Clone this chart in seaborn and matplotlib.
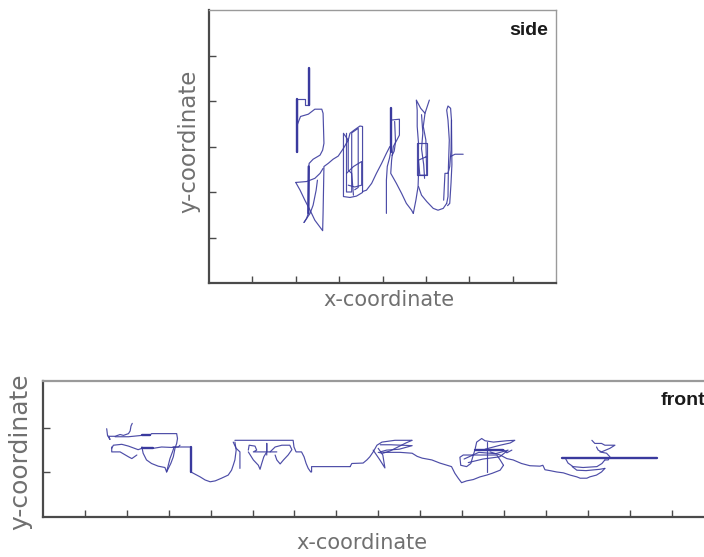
import matplotlib
matplotlib.use("Agg")
import matplotlib.pyplot as plt
import pandas as pd
import seaborn as sns

sns.set_theme(style="white")
plt.rcParams["font.family"] = ["DejaVu Sans"]

# ---------------- "side" view: pen trajectory (x 0..8, y 0..6) ----------------
side_1_x = [2.31, 2.31, 2.22, 2.22, 2.02, 2.02]
side_1_y = [4.72, 3.91, 3.91, 4.04, 4.04, 2.89]
side_2_x = [2.04, 2.11, 2.29, 2.44, 2.60, 2.63, 2.65, 2.62, 2.56, 2.40, 2.31, 2.30, 2.29, 2.25, 2.19]
side_2_y = [3.49, 3.66, 3.71, 3.82, 3.82, 3.73, 3.07, 2.92, 2.81, 2.72, 2.63, 2.56, 1.53, 1.42, 1.33]
side_3_x = [2.00, 2.10, 2.21, 2.33, 2.44, 2.62, 2.63, 2.65, 2.75, 2.86, 2.98, 3.10, 3.21]
side_3_y = [2.21, 2.04, 1.82, 1.60, 1.38, 1.15, 1.53, 2.56, 2.63, 2.72, 2.79, 2.96, 3.14]
side_4_x = [2.00, 2.25, 2.44, 2.56, 2.63]
side_4_y = [2.21, 2.23, 2.30, 2.41, 2.52]
side_5_x = [2.19, 2.33, 2.40, 2.47, 2.50]
side_5_y = [1.33, 1.53, 1.71, 2.04, 2.26]
side_6_x = [3.21, 3.10, 3.10, 3.25, 3.40, 3.54, 3.54, 3.48, 3.36, 3.25, 3.21, 3.21, 3.29, 3.33]
side_6_y = [3.14, 3.29, 1.90, 1.88, 1.91, 1.99, 3.44, 3.45, 3.37, 3.29, 3.14, 2.48, 2.41, 1.93]
side_7_x = [3.17, 3.33, 3.52, 3.52, 3.36, 3.21]
side_7_y = [2.41, 2.56, 2.67, 2.15, 2.11, 2.15]
side_8_x = [3.54, 3.63, 3.75, 3.86, 3.98, 4.09, 4.17]
side_8_y = [2.01, 2.04, 2.19, 2.41, 2.63, 2.85, 3.00]
side_9_x = [4.19, 4.19, 4.16, 4.11, 4.09, 4.09]
side_9_y = [3.84, 2.89, 2.74, 2.56, 2.26, 1.53]
side_10_x = [4.19, 4.39, 4.39, 4.33, 4.25, 4.21, 4.19, 4.32, 4.44, 4.55, 4.67, 4.71]
side_10_y = [3.58, 3.60, 3.25, 3.14, 3.00, 2.70, 2.41, 2.19, 1.97, 1.75, 1.60, 1.53]
side_11_x = [4.71, 4.77, 4.82, 4.83, 4.83, 4.80, 4.80, 4.78, 4.88, 4.98, 5.08]
side_11_y = [1.53, 1.82, 2.12, 2.41, 3.07, 3.44, 3.80, 4.02, 3.84, 3.73, 4.02]
side_12_x = [4.98, 4.94, 5.00, 5.02, 4.86, 4.83, 5.02]
side_12_y = [3.73, 3.44, 3.14, 2.37, 2.37, 2.70, 2.78]
side_13_x = [4.83, 4.90, 5.02, 5.17, 5.28, 5.40, 5.48]
side_13_y = [2.12, 1.93, 1.79, 1.64, 1.60, 1.64, 1.75]
side_14_x = [5.48, 5.51, 5.52, 5.54, 5.51, 5.48, 5.51, 5.57, 5.59, 5.58, 5.55, 5.51, 5.44, 5.41]
side_14_y = [1.75, 1.90, 2.56, 3.14, 3.58, 3.80, 3.89, 3.84, 3.58, 2.92, 2.56, 2.41, 2.41, 1.82]
side_15_x = [5.57, 5.67, 5.86]
side_15_y = [2.78, 2.83, 2.83]
side_16_x = [3.17, 3.17, 3.29, 3.29, 3.44, 3.44, 3.36]
side_16_y = [3.29, 2.00, 2.00, 3.30, 3.40, 2.10, 2.05]
side_17_x = [4.80, 5.02, 5.02, 4.80, 4.80]
side_17_y = [3.07, 3.07, 2.37, 2.37, 3.07]
side_18_x = [5.59, 5.60, 5.58, 5.55, 5.50]
side_18_y = [3.58, 2.60, 2.20, 1.75, 1.70]
side_19_x = [4.28, 4.30, 4.27, 4.22]
side_19_y = [3.55, 3.10, 2.90, 2.80]
side_20_x = [4.90, 4.93, 4.90, 4.95, 4.97]
side_20_y = [3.70, 3.30, 2.95, 2.60, 2.30]
# heavier (slow, repeated) pen strokes
side_bold_1_x = [2.31, 2.31]
side_bold_1_y = [4.72, 3.91]
side_bold_2_x = [2.02, 2.02]
side_bold_2_y = [4.04, 2.89]
side_bold_3_x = [2.30, 2.29]
side_bold_3_y = [2.56, 1.53]
side_bold_4_x = [4.19, 4.19]
side_bold_4_y = [3.84, 2.89]

# ---------------- "front" view: pen trajectory (x 0..16, y 0..3) ----------------
front_1_x = [1.52, 1.54, 1.60, 1.56, 1.72, 1.84, 1.92, 2.04, 2.08, 2.10, 2.13]
front_1_y = [1.98, 1.83, 1.74, 1.81, 1.81, 1.85, 1.83, 1.87, 1.93, 2.04, 2.10]
front_2_x = [1.72, 2.04, 2.36, 2.55, 2.59, 3.19, 3.21, 3.19, 3.15, 3.11, 3.05, 2.95]
front_2_y = [1.80, 1.80, 1.83, 1.83, 1.87, 1.87, 1.76, 1.65, 1.54, 1.35, 1.20, 1.01]
front_3_x = [1.64, 1.68, 1.88, 2.04, 2.27, 2.36, 2.63, 2.83, 3.07, 3.23, 3.27]
front_3_y = [1.54, 1.61, 1.63, 1.59, 1.51, 1.54, 1.54, 1.57, 1.56, 1.57, 1.61]
front_4_x = [1.64, 1.64, 1.84, 2.04, 2.12, 2.24]
front_4_y = [1.57, 1.46, 1.46, 1.35, 1.31, 1.39]
front_5_x = [2.36, 2.39, 2.47, 2.59, 2.75, 2.91, 2.95, 2.99, 3.03, 3.09, 3.13]
front_5_y = [1.57, 1.43, 1.28, 1.20, 1.14, 1.11, 1.01, 1.16, 1.31, 1.46, 1.57]
front_6_x = [3.10, 3.53, 3.53, 3.59, 3.75, 3.87, 3.99, 4.11, 4.26, 4.42, 4.50, 4.54, 4.58, 4.61, 4.58]
front_6_y = [1.57, 1.57, 1.01, 0.98, 0.90, 0.83, 0.79, 0.81, 0.87, 0.94, 1.05, 1.16, 1.28, 1.50, 1.68]
front_7_x = [4.58, 5.97, 5.99, 6.04, 6.17, 6.23, 6.28, 6.33, 6.39, 6.41, 6.41, 7.33]
front_7_y = [1.72, 1.72, 1.57, 1.46, 1.46, 1.35, 1.20, 1.09, 1.01, 1.01, 1.13, 1.13]
front_8_x = [4.54, 4.61, 4.70, 4.70]
front_8_y = [1.68, 1.54, 1.46, 1.09]
front_9_x = [4.90, 4.92, 5.06, 5.10, 5.02, 5.58]
front_9_y = [1.50, 1.61, 1.59, 1.50, 1.46, 1.46]
front_10_x = [4.90, 5.02, 5.14, 5.18, 5.22, 5.27, 5.34, 5.34, 5.34]
front_10_y = [1.46, 1.28, 1.16, 1.07, 1.20, 1.35, 1.46, 1.65, 1.39]
front_11_x = [5.42, 5.54, 5.70, 5.89, 5.94, 5.85, 5.74, 5.66, 5.58, 5.54]
front_11_y = [1.46, 1.57, 1.61, 1.61, 1.51, 1.39, 1.28, 1.19, 1.28, 1.39]
front_12_x = [7.33, 7.37, 7.64, 7.73, 7.80, 7.88, 7.97, 8.09, 8.40, 8.76, 8.81, 8.66, 8.47, 8.28, 8.11, 8.00]
front_12_y = [1.13, 1.20, 1.21, 1.28, 1.35, 1.46, 1.61, 1.68, 1.72, 1.72, 1.72, 1.66, 1.57, 1.48, 1.43, 1.45]
front_13_x = [7.88, 8.04, 8.16, 8.11, 8.00]
front_13_y = [1.50, 1.28, 1.10, 1.39, 1.54]
front_14_x = [8.11, 8.52, 8.81, 8.93, 9.05, 9.28, 9.47, 9.75, 9.83, 9.91, 9.99, 10.11, 10.27, 10.43,
              10.59, 10.72, 10.91, 10.99]
front_14_y = [1.45, 1.45, 1.43, 1.36, 1.32, 1.28, 1.21, 1.13, 0.98, 0.87, 0.77, 0.81, 0.84, 0.90,
              0.94, 0.98, 1.05, 1.16]
front_15_x = [10.99, 10.91, 10.83, 10.03, 9.95, 9.97, 10.11, 10.21, 10.27, 10.31, 10.99, 11.07, 11.19]
front_15_y = [1.16, 1.28, 1.39, 1.39, 1.34, 1.16, 1.13, 1.20, 1.39, 1.51, 1.51, 1.44, 1.50]
front_16_x = [10.31, 10.35, 10.47, 10.55, 10.75, 11.07, 11.26, 11.15, 10.91, 10.71, 10.55]
front_16_y = [1.51, 1.68, 1.76, 1.71, 1.68, 1.71, 1.72, 1.66, 1.61, 1.56, 1.52]
front_17_x = [10.59, 10.59]
front_17_y = [1.68, 1.01]
front_18_x = [10.67, 10.91, 11.07, 11.22, 11.42, 11.62, 11.86, 11.93, 11.98, 12.10, 12.26, 12.42,
              12.58, 12.74, 12.82, 12.98, 13.05, 13.21, 13.33, 13.41]
front_18_y = [1.46, 1.39, 1.31, 1.28, 1.20, 1.15, 1.14, 1.16, 1.06, 1.04, 1.01, 0.99,
              0.94, 0.90, 0.87, 0.87, 0.90, 0.94, 1.01, 1.09]
front_19_x = [12.46, 12.53, 12.65, 12.89, 13.22, 13.34, 13.41]
front_19_y = [1.33, 1.21, 1.13, 1.11, 1.13, 1.20, 1.28]
front_20_x = [12.63, 12.74, 12.96, 13.29, 13.41]
front_20_y = [1.13, 1.05, 1.04, 1.07, 1.09]
front_21_x = [13.10, 13.17, 13.33, 13.41, 13.65, 13.53, 13.33, 13.25, 13.21]
front_21_y = [1.72, 1.65, 1.65, 1.61, 1.61, 1.54, 1.46, 1.50, 1.57]
front_22_x = [13.29, 13.45, 13.53, 13.49, 13.41]
front_22_y = [1.46, 1.43, 1.35, 1.28, 1.28]
front_23_x = [8.05, 8.30, 8.81, 8.50, 8.20, 8.05]
front_23_y = [1.62, 1.62, 1.60, 1.52, 1.50, 1.46]
front_24_x = [10.05, 10.40, 10.80, 11.10, 10.90, 10.50, 10.15]
front_24_y = [1.30, 1.45, 1.42, 1.50, 1.35, 1.30, 1.22]
front_bold_1_x = [12.39, 14.65]
front_bold_1_y = [1.33, 1.33]
front_bold_2_x = [10.31, 10.99]
front_bold_2_y = [1.51, 1.51]
front_bold_3_x = [3.53, 3.53]
front_bold_3_y = [1.57, 1.01]
front_bold_4_x = [2.36, 2.55]
front_bold_4_y = [1.83, 1.83]
front_bold_5_x = [2.36, 2.63]
front_bold_5_y = [1.54, 1.54]

side_strokes = [(side_1_x, side_1_y), (side_2_x, side_2_y), (side_3_x, side_3_y), (side_4_x, side_4_y),
                (side_5_x, side_5_y), (side_6_x, side_6_y), (side_7_x, side_7_y), (side_8_x, side_8_y),
                (side_9_x, side_9_y), (side_10_x, side_10_y), (side_11_x, side_11_y),
                (side_12_x, side_12_y), (side_13_x, side_13_y), (side_14_x, side_14_y),
                (side_15_x, side_15_y), (side_16_x, side_16_y), (side_17_x, side_17_y),
                (side_18_x, side_18_y), (side_19_x, side_19_y), (side_20_x, side_20_y)]
side_bold = [(side_bold_1_x, side_bold_1_y), (side_bold_2_x, side_bold_2_y),
             (side_bold_3_x, side_bold_3_y), (side_bold_4_x, side_bold_4_y)]
front_strokes = [(front_1_x, front_1_y), (front_2_x, front_2_y), (front_3_x, front_3_y),
                 (front_4_x, front_4_y), (front_5_x, front_5_y), (front_6_x, front_6_y),
                 (front_7_x, front_7_y), (front_8_x, front_8_y), (front_9_x, front_9_y),
                 (front_10_x, front_10_y), (front_11_x, front_11_y), (front_12_x, front_12_y),
                 (front_13_x, front_13_y), (front_14_x, front_14_y), (front_15_x, front_15_y),
                 (front_16_x, front_16_y), (front_17_x, front_17_y), (front_18_x, front_18_y),
                 (front_19_x, front_19_y), (front_20_x, front_20_y), (front_21_x, front_21_y),
                 (front_22_x, front_22_y), (front_23_x, front_23_y), (front_24_x, front_24_y)]
front_bold = [(front_bold_1_x, front_bold_1_y), (front_bold_2_x, front_bold_2_y),
              (front_bold_3_x, front_bold_3_y), (front_bold_4_x, front_bold_4_y),
              (front_bold_5_x, front_bold_5_y)]

side_xticks = [1, 2, 3, 4, 5, 6, 7]
side_yticks = [1, 2, 3, 4, 5]
front_xticks = list(range(1, 16))
front_yticks = [1, 2]


def to_frame(strokes):
    rows = []
    for sid, (xs, ys) in enumerate(strokes):
        for k, (x, y) in enumerate(zip(xs, ys)):
            rows.append({"stroke": sid, "order": k, "x": x, "y": y})
    return pd.DataFrame(rows)


LINE = "#3a3a9e"
SPINE = "#4a4a4a"
LABEL = "#707070"

fig = plt.figure(figsize=(7.04, 5.57), dpi=100, facecolor="white")
ax1 = fig.add_axes([209 / 704, 1 - 283 / 557, 347 / 704, 273 / 557])
ax2 = fig.add_axes([43 / 704, 1 - 517 / 557, 670.4 / 704, 136 / 557])

for ax, strokes, bold in ((ax1, side_strokes, side_bold), (ax2, front_strokes, front_bold)):
    sns.lineplot(data=to_frame(strokes), x="x", y="y", units="stroke", estimator=None,
                 sort=False, color=LINE, lw=0.85, alpha=0.9, ax=ax, legend=False)
    sns.lineplot(data=to_frame(bold), x="x", y="y", units="stroke", estimator=None,
                 sort=False, color=LINE, lw=1.7, ax=ax, legend=False)

ax1.set_xlim(0, 8)
ax1.set_ylim(0, 6)
ax2.set_xlim(0, 16)
ax2.set_ylim(0, 3.05)
ax1.set_xticks(side_xticks)
ax1.set_yticks(side_yticks)
ax2.set_xticks(front_xticks)
ax2.set_yticks(front_yticks)

for ax in (ax1, ax2):
    ax.set_facecolor("white")
    ax.tick_params(direction="in", length=5, width=1.0, color=SPINE,
                   labelleft=False, labelbottom=False, left=True, bottom=True)
    for s in ("left", "bottom"):
        ax.spines[s].set_color(SPINE)
        ax.spines[s].set_linewidth(1.6)
    for s in ("top", "right"):
        ax.spines[s].set_color("#9a9a9a")
        ax.spines[s].set_linewidth(1.0)
ax2.spines["top"].set_linewidth(1.6)

ax1.set_xlabel("x-coordinate", fontsize=15, color=LABEL)
ax1.set_ylabel("y-coordinate", fontsize=16.5, color=LABEL)
ax1.xaxis.set_label_coords(0.519, -0.025)
ax1.yaxis.set_label_coords(-0.026, 0.52)
ax2.set_xlabel("x-coordinate", fontsize=15, color=LABEL)
ax2.set_ylabel("y-coordinate", fontsize=18, color=LABEL)
ax2.xaxis.set_label_coords(0.476, -0.12)
ax2.yaxis.set_label_coords(-0.016, 0.48)

ax1.text(0.977, 0.955, "side", transform=ax1.transAxes, ha="right", va="top",
         fontsize=14, fontweight="bold", family=["Liberation Sans", "DejaVu Sans"], color="#1a1a1a")
ax2.text(0.921, 0.92, "front", transform=ax2.transAxes, ha="left", va="top",
         fontsize=14, fontweight="bold", family=["Liberation Sans", "DejaVu Sans"], color="#1a1a1a")

fig.savefig("out.png", dpi=100, facecolor="white")
